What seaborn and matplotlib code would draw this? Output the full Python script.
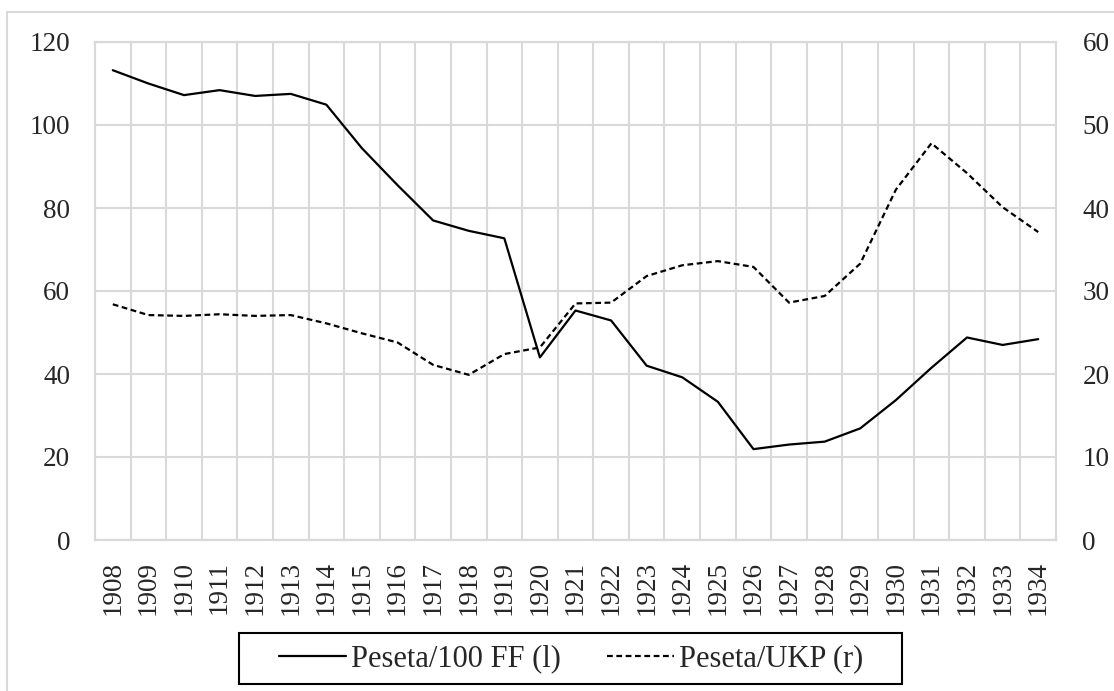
import matplotlib
matplotlib.use("Agg")
import matplotlib.pyplot as plt
import matplotlib.lines as mlines
import matplotlib.patches as mpatches
import numpy as np
import pandas as pd
import seaborn as sns

sns.set_style("white")
plt.rcParams['font.family'] = ['Liberation Serif', 'DejaVu Serif']
plt.rcParams['font.size'] = 19.5

# data
years = list(range(1908, 1935))
peseta_ff = [113.2, 110.0, 107.2, 108.4, 107.0, 107.5, 104.9, 94.4, 85.5, 77.0,
             74.5, 72.7, 44.0, 55.3, 52.9, 42.0, 39.2, 33.3, 21.9, 23.0,
             23.7, 26.9, 33.7, 41.5, 48.8, 47.0, 48.4]
peseta_ukp = [28.4, 27.1, 27.0, 27.2, 27.0, 27.1, 26.1, 24.9, 23.8, 21.1,
              19.9, 22.4, 23.2, 28.5, 28.6, 31.8, 33.1, 33.6, 32.9, 28.6,
              29.4, 33.3, 42.2, 47.8, 44.2, 40.1, 37.1]
left_ticks = [0, 20, 40, 60, 80, 100, 120]
right_ticks = [0, 10, 20, 30, 40, 50, 60]

df = pd.DataFrame({'idx': np.arange(len(years)), 'ff': peseta_ff, 'ukp': peseta_ukp})

grid_col = '#d9d9d9'
W, H = 1114, 691

fig = plt.figure(figsize=(11.14, 6.91), dpi=100)
ax = fig.add_axes([95 / W, 1 - 540 / H, 961 / W, 498 / H])
ax2 = ax.twinx()

sns.lineplot(data=df, x='idx', y='ff', ax=ax, color='black', linewidth=1.6)
sns.lineplot(data=df, x='idx', y='ukp', ax=ax2, color='black', linewidth=1.6,
             linestyle=(0, (2.6, 1.6)))

# x axis: categories with gridlines between them
ax.set_xlim(-0.5, len(years) - 0.5)
ax.set_xticks(df['idx'])
ax.set_xticklabels([str(y) for y in years], rotation=90)
ax.set_xticks(np.arange(0.5, len(years) - 0.5, 1), minor=True)
ax.tick_params(axis='x', which='both', length=0, pad=15)
ax.grid(True, axis='x', which='minor', color=grid_col, linewidth=1.5)

ax.set_ylim(0, 120)
ax.set_yticks(left_ticks)
ax.grid(True, axis='y', which='major', color=grid_col, linewidth=1.5)
ax.tick_params(axis='y', length=0, pad=18)

ax2.set_ylim(0, 60)
ax2.set_yticks(right_ticks)
ax2.tick_params(axis='y', length=0, pad=19)

for a in (ax, ax2):
    a.set_xlabel('')
    a.set_ylabel('')
    for s in a.spines.values():
        s.set_color(grid_col)
        s.set_linewidth(1.5)

# outer chart-area frame (only top and left edges visible)
fig.add_artist(mlines.Line2D([7 / W, 1.0], [1 - 12 / H, 1 - 12 / H],
                             color=grid_col, linewidth=1.5, transform=fig.transFigure))
fig.add_artist(mlines.Line2D([7 / W, 7 / W], [0.0, 1 - 12 / H],
                             color=grid_col, linewidth=1.5, transform=fig.transFigure))

# legend with a wide square box
fig.add_artist(mpatches.Rectangle((239 / W, 1 - 684 / H), 663 / W, 51 / H,
                                  transform=fig.transFigure, fill=False,
                                  edgecolor='black', linewidth=1.5))
h1 = mlines.Line2D([], [], color='black', linewidth=1.6)
h2 = mlines.Line2D([], [], color='black', linewidth=1.6, linestyle=(0, (2.6, 1.6)))
fig.legend([h1, h2], ['Peseta/100 FF (l)', 'Peseta/UKP (r)'],
           loc='center', bbox_to_anchor=(571 / W, 1 - 659 / H), ncol=2,
           frameon=False, handlelength=2.2, columnspacing=1.5,
           handletextpad=0.15, borderpad=0.2, fontsize=22)

fig.savefig('out.png', dpi=100, facecolor='white')
